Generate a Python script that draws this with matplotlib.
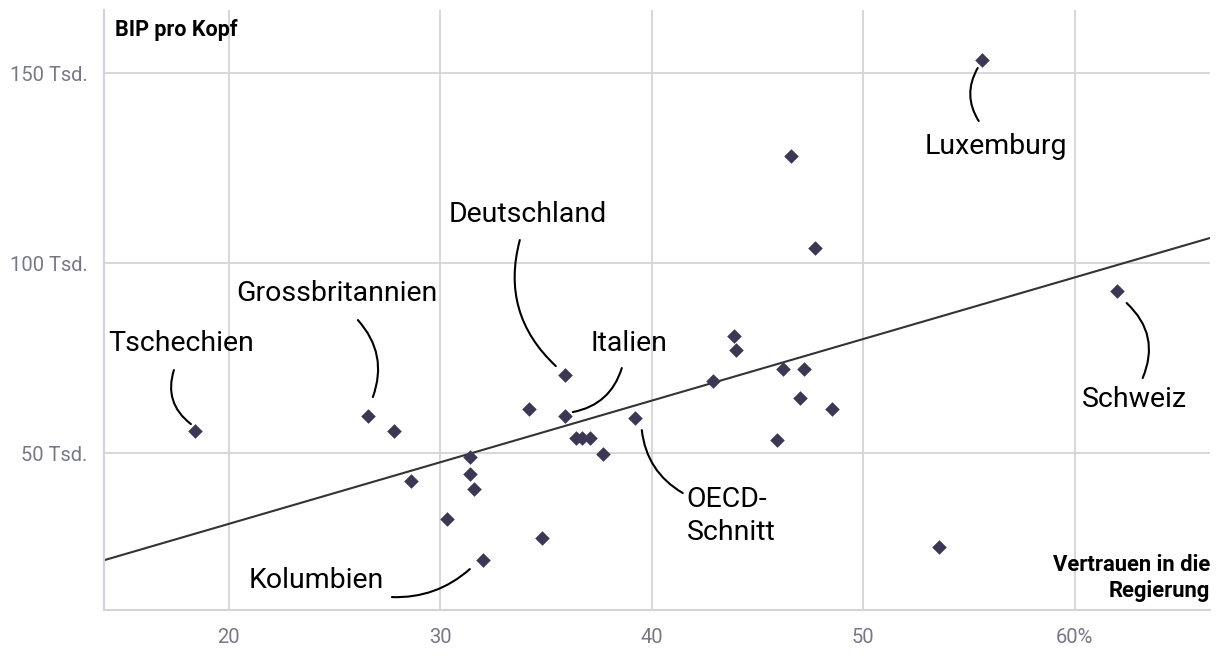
import matplotlib.pyplot as plt

plt.rcParams['font.family'] = ['Roboto', 'DejaVu Sans']

# Vertrauen in die Regierung (%) und BIP pro Kopf (Tsd.)
vertrauen = [18.4, 26.6, 27.8, 28.6, 30.3, 31.4, 31.4, 31.6, 32.0, 34.2, 34.8,
             35.9, 35.9, 36.4, 36.7, 37.1, 37.7, 39.2, 43.9, 44.0, 42.9, 46.2,
             47.2, 47.0, 48.5, 45.9, 46.6, 47.7, 55.6, 62.0, 53.6]
bip = [55.8, 59.7, 55.8, 42.6, 32.6, 48.9, 44.5, 40.5, 21.8, 61.6, 27.6,
       70.5, 59.7, 53.9, 53.9, 53.9, 49.7, 59.3, 80.8, 77.1, 68.9, 72.0,
       72.1, 64.4, 61.7, 53.4, 128.2, 103.9, 153.4, 92.6, 25.2]

# Trendlinie
trend_slope = 1.621
trend_intercept = -1.04

x_ticks = [20, 30, 40, 50, 60]
x_tick_labels = ['20', '30', '40', '50', '60%']
y_ticks = [50, 100, 150]
y_tick_labels = ['50 Tsd.', '100 Tsd.', '150 Tsd.']

grid_col = '#d3d3db'
tick_col = '#77778a'
dot_col = '#3b3754'

fig = plt.figure(figsize=(12.2, 6.58), dpi=100)
ax = fig.add_axes([0.0852, 0.0729, 0.9066, 0.912])

xmin, xmax = 14.09, 66.4
ax.set_xlim(xmin, xmax)
ax.set_ylim(8.7, 166.6)

ax.plot([xmin, xmax], [trend_slope * xmin + trend_intercept, trend_slope * xmax + trend_intercept],
        color='#333333', lw=1.5, zorder=2)
ax.scatter(vertrauen, bip, marker='D', s=55, color=dot_col, zorder=3, linewidths=0)

ax.set_xticks(x_ticks)
ax.set_xticklabels(x_tick_labels)
ax.set_yticks(y_ticks)
ax.set_yticklabels(y_tick_labels)
ax.tick_params(length=0, colors=tick_col, labelsize=14.5)
ax.tick_params(axis='x', pad=13)
ax.tick_params(axis='y', pad=12)
ax.grid(True, color=grid_col, lw=1.3, zorder=0)
ax.set_axisbelow(True)
for s in ['top', 'right']:
    ax.spines[s].set_visible(False)
for s in ['left', 'bottom']:
    ax.spines[s].set_color(grid_col)
    ax.spines[s].set_linewidth(1.5)

ax.text(0.01, 0.985, 'BIP pro Kopf', transform=ax.transAxes, ha='left', va='top',
        fontsize=15.5, fontweight='bold', color='black')
ax.text(1.0, 0.013, 'Vertrauen in die\nRegierung', transform=ax.transAxes, ha='right',
        va='bottom', fontsize=15.8, fontweight='bold', color='black', linespacing=1.25)

# Beschriftungen mit gebogenen Verbindungslinien
lab_fs = 20.5
def label(text, xy, xytext, start, rad, ha='center'):
    ax.annotate(text, xy=xy, xytext=xytext, textcoords='data', fontsize=lab_fs,
                ha=ha, va='center', color='black', linespacing=1.3)
    ax.annotate('', xy=xy, xytext=start,
                arrowprops=dict(arrowstyle='-', color='black', lw=1.5,
                                connectionstyle='arc3,rad=%s' % rad,
                                shrinkA=0, shrinkB=0))

def px(x, y):
    return (20 + (x - 229) / 21.15, 150 - (y - 73) / 3.8)

label('Tschechien', px(191, 424), px(181, 343), px(174, 370), 0.35)
label('Grossbritannien', px(373, 397), px(337, 293), px(358, 320), -0.3)
label('Deutschland', px(556, 366), px(528, 214), px(520, 240), 0.3)
label('Italien', px(573, 412), px(629, 343), px(622, 368), -0.3)
label('OECD-\nSchnitt', px(683, 493), px(687, 516), px(642, 430), 0.25, ha='left')
label('Kolumbien', px(470, 569), px(316, 580), px(392, 597), 0.2)
label('Luxemburg', px(979, 121), px(996, 146), px(978, 68), 0.3)
label('Schweiz', px(1143, 378), px(1135, 399), px(1127, 303), -0.35)

fig.savefig('out.png', dpi=100)
